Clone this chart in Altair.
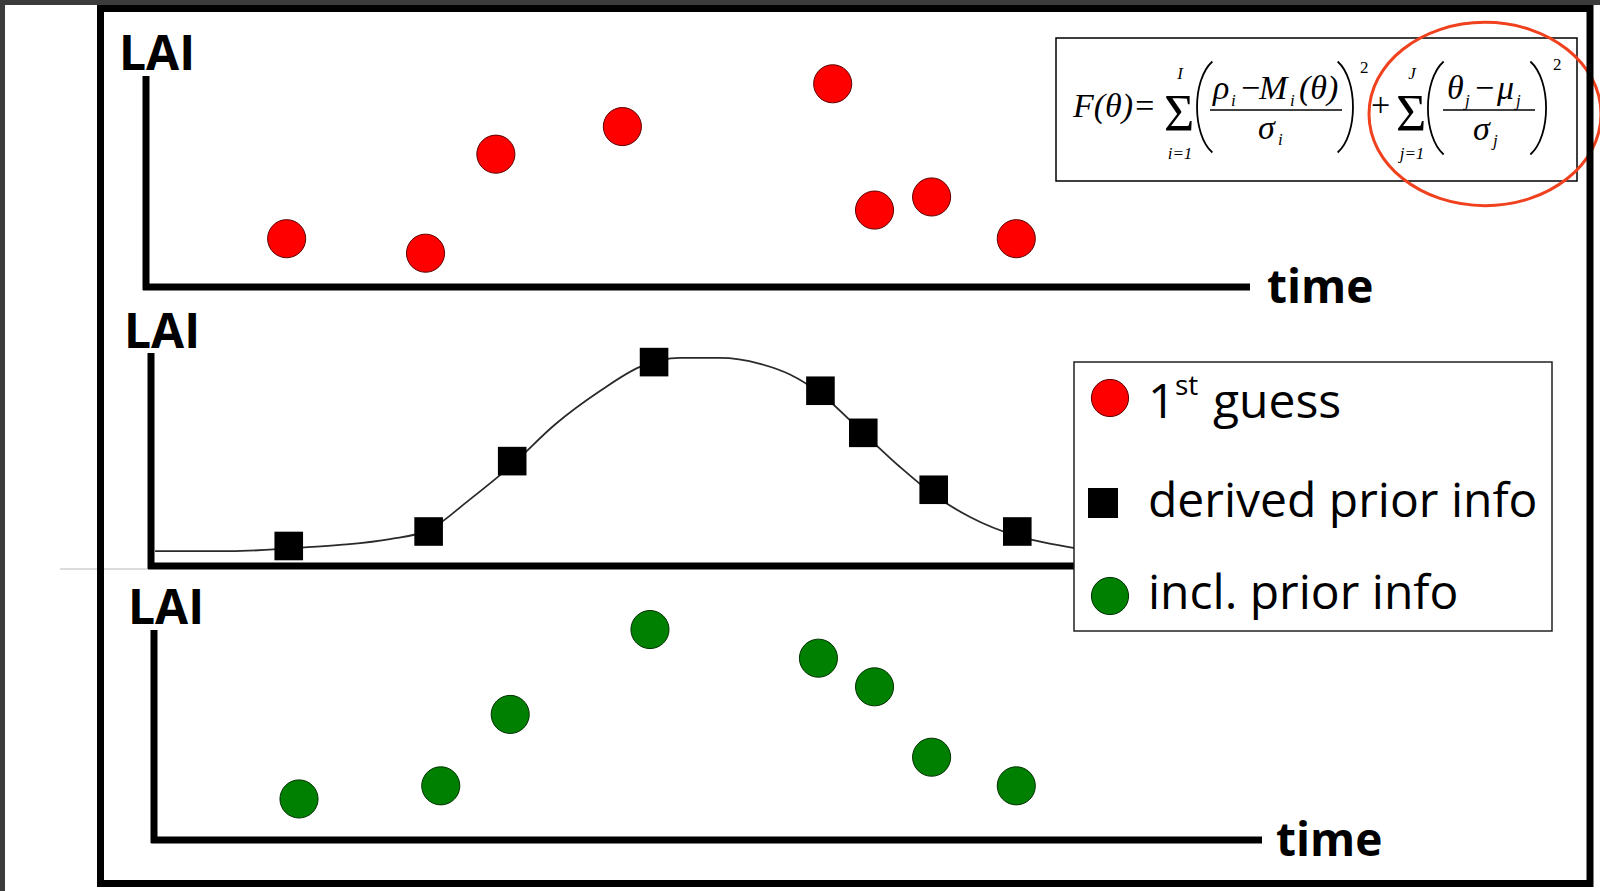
import altair as alt
import pandas as pd

# ---------------------------------------------------------------
# Series values: time in arbitrary units (0-100), LAI in m2/m2
# ---------------------------------------------------------------
first_guess_time = [12.74, 25.32, 31.69, 43.15, 62.20, 65.99, 71.16, 78.83]
first_guess_lai = [1.40, 0.98, 3.85, 4.65, 5.89, 2.23, 2.61, 1.40]

prior_time = [12.93, 25.60, 33.17, 46.02, 61.09, 64.97, 71.35, 78.92]
prior_lai = [0.58, 1.00, 3.04, 5.91, 5.08, 3.86, 2.21, 1.00]

prior_curve_time = [0.82, 7.61, 13.04, 17.57, 22.10, 25.60, 29.26, 33.15, 37.05,
                    41.12, 44.75, 48.37, 51.99, 55.62, 58.33, 61.05, 64.95, 68.30,
                    71.38, 74.64, 78.89, 81.97, 84.15]
prior_curve_lai = [0.43, 0.43, 0.51, 0.61, 0.78, 1.04, 1.91, 2.93, 4.10,
                   5.07, 5.77, 6.03, 6.03, 5.86, 5.55, 5.01, 3.86, 2.87,
                   2.06, 1.42, 0.87, 0.64, 0.52]

incl_prior_time = [13.86, 26.70, 32.99, 45.65, 60.91, 65.99, 71.16, 78.83]
incl_prior_lai = [1.19, 1.57, 3.64, 6.10, 5.27, 4.44, 2.40, 1.57]

legend_labels = ["guess", "derived prior info", "incl. prior info"]

W, H = 1600, 891
SANS = "Open Sans"
SERIF = "Liberation Serif"

one = pd.DataFrame({"k": [0]})
V = alt.value


def time_x():
    return alt.X("time:Q", scale=alt.Scale(domain=[0, 100], range=[146, 1250]), axis=None)


def lai_y(bottom):
    # each panel gets its own LAI scale stacked down the page
    return alt.Y("lai:Q", scale=alt.Scale(domain=[0, 6], range=[bottom, bottom - 207]), axis=None)


def rect(x, x2, y, y2, **kw):
    return alt.Chart(one).mark_rect(**kw).encode(x=V(x), x2=V(x2), y=V(y), y2=V(y2))


def rule(x, x2, y, y2, **kw):
    return alt.Chart(one).mark_rule(**kw).encode(x=V(x), x2=V(x2), y=V(y), y2=V(y2))


def text(s, x, y, size, font=SANS, weight="normal", style="normal", align="left", color="black"):
    return alt.Chart(one).mark_text(
        text=s, font=font, fontSize=size, fontWeight=weight, fontStyle=style,
        align=align, baseline="alphabetic", color=color,
    ).encode(x=V(x), y=V(y))


def shape(path, x, y, size, **kw):
    return alt.Chart(one).mark_point(shape=path, size=size, opacity=1, **kw).encode(x=V(x), y=V(y))


layers = []

# page edges
layers.append(rect(0, W, 0, 5, color="#3b3b3b"))
layers.append(rect(0, 5, 0, H, color="#3b3b3b"))
layers.append(rule(60, 147, 569, 569, color="#dcdcdc", strokeWidth=2))

# panel axes
AX = dict(color="black", strokeWidth=7)
layers += [
    rule(146, 146, 76, 290, **AX), rule(143, 1250, 287, 287, **AX),
    rule(151, 151, 353, 569, **AX), rule(148, 1080, 566, 566, **AX),
    rule(154, 154, 630, 843, **AX), rule(151, 1262, 840, 840, **AX),
]
layers += [
    text("LAI", 119, 70, 48, weight="bold"),
    text("LAI", 124, 348, 48, weight="bold"),
    text("LAI", 128, 624, 48, weight="bold"),
    text("time", 1267, 303, 46, weight="bold"),
    text("time", 1276, 856, 46, weight="bold"),
]

# panel 1: first guess
df1 = pd.DataFrame({"time": first_guess_time, "lai": first_guess_lai})
layers.append(alt.Chart(df1).mark_circle(size=1452, color="#ff0000", stroke="#5a0000",
                                         strokeWidth=1, opacity=1)
              .encode(x=time_x(), y=lai_y(287)))

# panel 2: derived prior curve and samples
dfc = pd.DataFrame({"time": prior_curve_time, "lai": prior_curve_lai})
layers.append(alt.Chart(dfc).mark_line(color="#2a2a2a", strokeWidth=1.8, interpolate="monotone")
              .encode(x=time_x(), y=lai_y(566)))
df2 = pd.DataFrame({"time": prior_time, "lai": prior_lai})
layers.append(alt.Chart(df2).mark_square(size=818, color="black", opacity=1)
              .encode(x=time_x(), y=lai_y(566)))

# panel 3: retrieval including prior info
df3 = pd.DataFrame({"time": incl_prior_time, "lai": incl_prior_lai})
layers.append(alt.Chart(df3).mark_circle(size=1452, color="#008000", stroke="#003000",
                                         strokeWidth=1, opacity=1)
              .encode(x=time_x(), y=lai_y(840)))

# cost function box
layers.append(rect(1056, 1577, 38, 181, fill="white", stroke="black", strokeWidth=1.5))
LP = "M 0.25 -1 C -0.2 -0.6 -0.2 0.6 0.25 1"
RP = "M -0.25 -1 C 0.2 -0.6 0.2 0.6 -0.25 1"
PAREN = dict(filled=False, stroke="black", strokeWidth=1.8)
FS, SS, SIG = 34, 17, 52
NUM, BAR = 99, 110
layers += [
    text("F(θ)=", 1073, 117, FS, font=SERIF, style="italic"),
    text("Σ", 1179, 131, SIG, font=SERIF, align="center"),
    text("I", 1180, 79, SS, font=SERIF, style="italic", align="center"),
    text("i=1", 1180, 159, SS, font=SERIF, style="italic", align="center"),
    shape(LP, 1201, 107, 8280, **PAREN),
    text("ρ", 1213, NUM, FS, font=SERIF, style="italic"),
    text("i", 1231, NUM + 7, SS, font=SERIF, style="italic"),
    text("−", 1241, NUM, FS, font=SERIF),
    text("M", 1259, NUM, FS, font=SERIF, style="italic"),
    text("i", 1290, NUM + 7, SS, font=SERIF, style="italic"),
    text("(θ)", 1299, NUM, FS, font=SERIF, style="italic"),
    rule(1210, 1342, BAR, BAR, color="black", strokeWidth=1.5),
    text("σ", 1258, 139, FS, font=SERIF, style="italic"),
    text("i", 1278, 145, SS, font=SERIF, style="italic"),
    shape(RP, 1349, 107, 8280, **PAREN),
    text("2", 1360, 73, SS, font=SERIF),
    text("+", 1371, 116, FS, font=SERIF),
    text("Σ", 1411, 131, SIG, font=SERIF, align="center"),
    text("J", 1412, 79, SS, font=SERIF, style="italic", align="center"),
    text("j=1", 1412, 159, SS, font=SERIF, style="italic", align="center"),
    shape(LP, 1432, 108, 8650, **PAREN),
    text("θ", 1447, NUM, FS, font=SERIF, style="italic"),
    text("j", 1465, NUM + 7, SS, font=SERIF, style="italic"),
    text("−", 1475, NUM, FS, font=SERIF),
    text("μ", 1497, NUM, FS, font=SERIF, style="italic"),
    text("j", 1516, NUM + 7, SS, font=SERIF, style="italic"),
    rule(1443, 1535, BAR, BAR, color="black", strokeWidth=1.5),
    text("σ", 1473, 140, FS, font=SERIF, style="italic"),
    text("j", 1493, 146, SS, font=SERIF, style="italic"),
    shape(RP, 1542, 108, 8650, **PAREN),
    text("2", 1553, 70, SS, font=SERIF),
]

# legend
layers.append(rect(1074, 1552, 362, 631, fill="white", stroke="#222222", strokeWidth=1.5))
layers += [
    alt.Chart(one).mark_circle(size=1385, color="#ff0000", stroke="#5a0000", strokeWidth=1, opacity=1)
    .encode(x=V(1110), y=V(398)),
    alt.Chart(one).mark_square(size=900, color="black", opacity=1).encode(x=V(1103), y=V(503)),
    alt.Chart(one).mark_circle(size=1385, color="#008000", stroke="#003000", strokeWidth=1, opacity=1)
    .encode(x=V(1110), y=V(596)),
    text("1", 1148, 418, 48),
    text("st", 1175, 395, 28),
    text(legend_labels[0], 1213, 418, 48),
    text(legend_labels[1], 1148, 517, 48),
    text(legend_labels[2], 1148, 609, 48),
]

# highlight around the prior term
ELL = "M -1 0 A 1 0.79 0 1 0 1 0 A 1 0.79 0 1 0 -1 0 Z"
layers.append(shape(ELL, 1485, 114, 232 * 232, filled=False, stroke="#f0411e", strokeWidth=3))

# outer frame
layers.append(rect(100.5, 1590, 8.5, 883.5, stroke="black", strokeWidth=7, fillOpacity=0))

chart = (
    alt.layer(*layers)
    .resolve_scale(x="independent", y="independent")
    .properties(width=W, height=H, padding=0, background="white",
                autosize=alt.AutoSizeParams(type="none"))
    .configure_view(stroke=None)
)

chart.save("out.html", embed_options={"renderer": "svg", "actions": False})
